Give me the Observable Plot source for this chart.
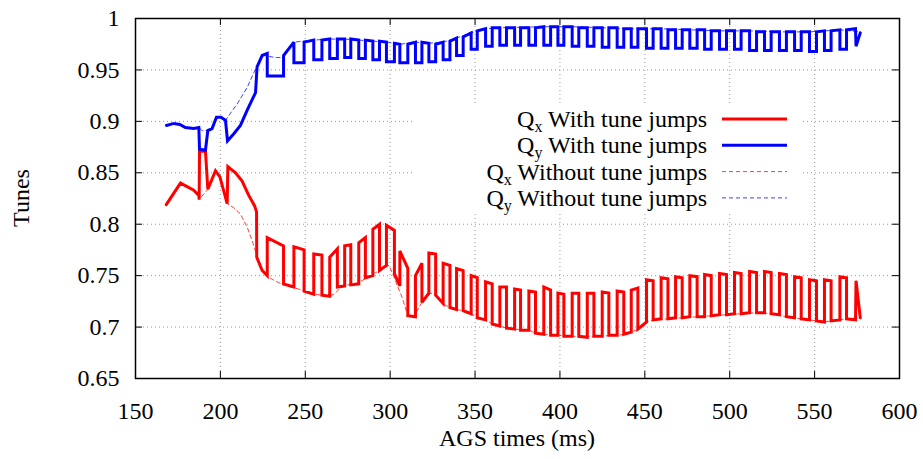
<!DOCTYPE html>
<html><head><meta charset="utf-8">
<script src="https://cdn.jsdelivr.net/npm/d3@7"></script>
<script src="https://cdn.jsdelivr.net/npm/@observablehq/plot@0.6"></script>
<style>body{margin:0;background:#fff}#chart{width:923px;height:459px}</style>
</head><body><div id="chart"></div>
<script>
// ---------- data ----------
const xTicks = [150, 200, 250, 300, 350, 400, 450, 500, 550, 600];
const yTicks = [0.65, 0.7, 0.75, 0.8, 0.85, 0.9, 0.95, 1];

// irregular start of the "with tune jumps" curves [ms, tune]
const qxLead = [[168.1,0.819],[176.5,0.840],[184.3,0.833],[187.3,0.828],[187.5,0.824],[187.7,0.871],[191.2,0.871],[192.6,0.834],[197.1,0.852],[199.7,0.846],[204.0,0.820],[204.4,0.856],[208.9,0.850],[212.8,0.842],[216.7,0.828],[220.1,0.818],[221.3,0.812],[221.4,0.768],[224.6,0.755]];
const qyLead = [[168.2,0.896],[172.6,0.898],[176.1,0.897],[179.4,0.894],[184.3,0.893],[187.3,0.894],[187.7,0.873],[191.2,0.872],[192.6,0.891],[195.1,0.893],[197.7,0.904],[200.4,0.904],[203.0,0.901],[204.2,0.881],[207.9,0.888],[211.8,0.896],[215.8,0.911],[220.7,0.928],[221.6,0.953],[224.6,0.964]];

// regular tune-jump pulses: start / end time (ms)
const jumpOn  = [227.6,243.3,255.0,264.4,273.2,281.5,289.8,297.8,305.7,314.9,322.8,331.2,339.1,347.7,356.2,364.6,373.3,381.7,390.5,398.8,407.2,416.1,424.9,433.7,442.0,451.0,459.6,468.1,476.5,485.2,494.0,502.8,511.7,520.5,529.3,538.2,547.0,555.8,564.9];
const jumpOff = [237.2,249.3,259.8,268.9,276.8,285.4,293.7,302.5,310.4,318.7,326.8,335.2,343.0,351.3,360.1,368.5,376.8,385.6,394.5,402.3,411.1,420.0,428.8,437.6,445.9,454.9,463.6,472.0,480.8,489.1,498.1,506.7,515.8,524.4,533.4,542.1,551.1,559.7,568.8];
// Qx: before jump, top at jump start, top at jump end, after jump
const qxPre    = [0.750,0.739,0.732,0.730,0.740,0.742,0.750,0.760,0.740,0.710,0.733,0.723,0.717,0.713,0.707,0.701,0.698,0.697,0.693,0.692,0.691,0.690,0.691,0.692,0.695,0.705,0.708,0.709,0.710,0.710,0.712,0.713,0.714,0.714,0.712,0.709,0.707,0.705,0.707];
const qxTopOn  = [0.787,0.778,0.771,0.768,0.779,0.782,0.795,0.799,0.774,0.750,0.772,0.762,0.757,0.750,0.744,0.739,0.737,0.735,0.739,0.733,0.733,0.733,0.734,0.735,0.736,0.746,0.748,0.749,0.750,0.751,0.752,0.753,0.754,0.754,0.752,0.749,0.746,0.746,0.749];
const qxTopOff = [0.779,0.775,0.770,0.776,0.780,0.787,0.800,0.794,0.757,0.762,0.771,0.760,0.755,0.748,0.742,0.739,0.736,0.734,0.736,0.732,0.733,0.733,0.733,0.734,0.738,0.745,0.747,0.748,0.749,0.750,0.751,0.752,0.753,0.753,0.751,0.748,0.745,0.745,0.748];
const qxPost   = [0.742,0.735,0.731,0.739,0.741,0.748,0.755,0.752,0.711,0.724,0.731,0.719,0.716,0.709,0.703,0.699,0.697,0.694,0.692,0.691,0.691,0.691,0.692,0.693,0.698,0.707,0.708,0.709,0.710,0.711,0.712,0.713,0.714,0.713,0.710,0.708,0.706,0.706,0.708];
// Qy: before jump, during jump, after jump
const qyPre    = [0.966,0.977,0.979,0.980,0.980,0.979,0.978,0.977,0.975,0.977,0.976,0.977,0.981,0.986,0.990,0.991,0.991,0.991,0.992,0.992,0.992,0.991,0.991,0.991,0.990,0.990,0.990,0.989,0.989,0.989,0.988,0.988,0.988,0.987,0.987,0.987,0.987,0.988,0.989];
const qyLow    = [0.944,0.957,0.960,0.961,0.962,0.961,0.960,0.958,0.957,0.957,0.958,0.960,0.964,0.970,0.973,0.974,0.974,0.974,0.974,0.974,0.973,0.973,0.972,0.972,0.972,0.971,0.971,0.971,0.971,0.970,0.970,0.970,0.969,0.969,0.969,0.969,0.968,0.969,0.970];
const qyPost   = [0.964,0.977,0.979,0.980,0.980,0.979,0.978,0.976,0.975,0.977,0.975,0.978,0.982,0.988,0.991,0.991,0.991,0.991,0.992,0.992,0.991,0.991,0.991,0.990,0.990,0.990,0.989,0.989,0.989,0.988,0.988,0.988,0.987,0.987,0.987,0.987,0.987,0.988,0.989];

// last (truncated) pulse
const qxTail = [[574.1,0.707],[574.4,0.745],[576.9,0.709]];
const qyTail = [[574.1,0.990],[574.4,0.973],[576.9,0.986]];

// "without tune jumps" curves
const qxWithout = [[168.1,0.819],[176.5,0.840],[184.3,0.833],[187.3,0.828],[187.5,0.824],[192.6,0.834],[197.1,0.852],[199.7,0.846],[204.0,0.820],[207.9,0.816],[211.8,0.810],[215.8,0.797],[218.7,0.784],[221.2,0.771],[224.6,0.755],[227.2,0.750],[232.0,0.745],[237.3,0.741],[241.3,0.739],[246.0,0.737],[249.5,0.735],[254.6,0.732],[259.9,0.731],[263.9,0.730],[267.0,0.732],[270.7,0.738],[276.6,0.742],[281.0,0.743],[286.4,0.748],[290.4,0.752],[296.2,0.757],[299.2,0.760],[301.2,0.753],[303.1,0.745],[307.0,0.729],[310.0,0.713],[313.9,0.709],[316.9,0.719],[319.8,0.727],[324.0,0.733],[327.0,0.731],[331.6,0.722],[335.5,0.719],[339.1,0.717],[343.0,0.716],[347.7,0.713],[351.3,0.709],[356.2,0.707],[360.1,0.703],[364.6,0.701],[368.5,0.699],[373.3,0.698],[381.7,0.697],[385.6,0.694],[390.5,0.693],[398.8,0.692],[407.2,0.691],[420.0,0.691],[433.7,0.692],[438.0,0.693],[442.0,0.695],[446.0,0.698],[451.0,0.705],[455.0,0.707],[463.6,0.708],[472.0,0.709],[480.8,0.710],[489.1,0.711],[498.1,0.712],[506.7,0.713],[515.8,0.714],[524.4,0.713],[533.4,0.710],[542.1,0.708],[551.1,0.706],[555.8,0.705],[559.7,0.706],[568.8,0.708],[576.9,0.709]];
const qyWithout = [[168.2,0.896],[172.6,0.898],[176.1,0.897],[179.4,0.894],[184.3,0.893],[187.3,0.894],[189.3,0.891],[192.6,0.891],[195.1,0.893],[197.7,0.904],[200.4,0.904],[203.0,0.901],[209.9,0.917],[215.8,0.933],[220.7,0.951],[224.6,0.964],[226.6,0.966],[229.0,0.963],[233.0,0.962],[236.4,0.962],[237.7,0.964],[240.0,0.970],[243.2,0.977],[249.0,0.978],[255.0,0.979],[264.0,0.980],[273.0,0.980],[281.5,0.979],[290.0,0.978],[298.0,0.977],[306.0,0.975],[315.0,0.977],[323.0,0.976],[331.0,0.977],[339.0,0.981],[347.7,0.986],[356.0,0.990],[365.0,0.991],[390.0,0.992],[407.0,0.992],[425.0,0.991],[442.0,0.990],[460.0,0.990],[476.0,0.989],[494.0,0.988],[512.0,0.988],[530.0,0.987],[547.0,0.987],[556.0,0.988],[565.0,0.989],[576.9,0.987]];

const legendSubs = ["x", "y", "x", "y"];
const legendText = ["With tune jumps", "With tune jumps", "Without tune jumps", "Without tune jumps"];

// ---------- build tables ----------
const toRows = a => a.map(([t, q]) => ({t, q}));
const qxWith = toRows(qxLead);
const qyWith = toRows(qyLead);
jumpOn.forEach((on, k) => {
  const off = jumpOff[k];
  qxWith.push({t: on, q: qxPre[k]}, {t: on, q: qxTopOn[k]}, {t: off, q: qxTopOff[k]}, {t: off, q: qxPost[k]});
  qyWith.push({t: on, q: qyPre[k]}, {t: on, q: qyLow[k]}, {t: off, q: qyLow[k]}, {t: off, q: qyPost[k]});
});
qxWith.push(...toRows(qxTail));
qyWith.push(...toRows(qyTail));

// ---------- layout ----------
const W = 923, H = 459, mL = 135, mR = 24, mT = 18, mB = 81;
const pW = W - mL - mR, pH = H - mT - mB;
const RED = "#ff0000", BLUE = "#0000ff";
const font = "'Liberation Serif','Times New Roman',serif";
const grid = {stroke: "#9a9a9a", strokeWidth: 1, strokeDasharray: "1,3"};

const svg = Plot.plot({
  width: W, height: H,
  marginLeft: mL, marginRight: mR, marginTop: mT, marginBottom: mB,
  style: {fontFamily: font, fontSize: "24px", color: "black", background: "white"},
  x: {domain: [150, 600]},
  y: {domain: [0.65, 1]},
  marks: [
    Plot.ruleX(xTicks, {x: d => d, ...grid}),
    Plot.ruleY(yTicks, {y: d => d, ...grid}),
    Plot.ruleX(xTicks, {x: d => d, insetTop: pH - 7, stroke: "black"}),
    Plot.ruleX(xTicks, {x: d => d, insetBottom: pH - 7, stroke: "black"}),
    Plot.ruleY(yTicks, {y: d => d, insetRight: pW - 7, stroke: "black"}),
    Plot.ruleY(yTicks, {y: d => d, insetLeft: pW - 7, stroke: "black"}),
    Plot.axisX({ticks: xTicks, tickSize: 0, tickPadding: 23, tickFormat: d => String(d), label: null, fontSize: 24}),
    Plot.axisY({ticks: yTicks, tickSize: 0, tickPadding: 16, tickFormat: d => String(+d.toFixed(2)), label: null, fontSize: 24}),
    Plot.line(qxWith, {x: "t", y: "q", stroke: RED, strokeWidth: 3, strokeLinejoin: "miter", strokeMiterlimit: 3}),
    Plot.line(qyWith, {x: "t", y: "q", stroke: BLUE, strokeWidth: 3, strokeLinejoin: "miter", strokeMiterlimit: 3}),
    Plot.line(toRows(qxWithout), {x: "t", y: "q", stroke: RED, strokeWidth: 1, strokeDasharray: "4,3", strokeOpacity: 0.75}),
    Plot.line(toRows(qyWithout), {x: "t", y: "q", stroke: BLUE, strokeWidth: 1, strokeDasharray: "4,3", strokeOpacity: 0.75}),
    Plot.frame({stroke: "black", strokeWidth: 1.5})
  ]
});

// ---------- titles and key ----------
const s = d3.select(svg);
s.append("text").attr("x", mL + pW / 2).attr("y", 446).attr("text-anchor", "middle")
  .attr("font-family", font).attr("font-size", 24).attr("fill", "black").text("AGS times (ms)");
s.append("text").attr("transform", `translate(21,${mT + pH / 2}) rotate(-90)`).attr("text-anchor", "middle")
  .attr("dy", "0.35em").attr("font-family", font).attr("font-size", 24).attr("fill", "black").text("Tunes");

const key = s.append("g");
key.append("rect").attr("x", 413).attr("y", 104).attr("width", 387).attr("height", 108).attr("fill", "white");
const keyStyles = [
  {stroke: RED, w: 3, dash: null, op: 1},
  {stroke: BLUE, w: 3, dash: null, op: 1},
  {stroke: RED, w: 1, dash: "4,3", op: 0.75},
  {stroke: BLUE, w: 1, dash: "4,3", op: 0.75}
];
legendText.forEach((label, i) => {
  const yRow = 119 + i * 26.3;
  const t = key.append("text").attr("x", 707).attr("y", yRow + 8).attr("text-anchor", "end")
    .attr("font-family", font).attr("font-size", 24).attr("fill", "black").style("white-space", "pre");
  t.append("tspan").text("Q");
  t.append("tspan").attr("dy", 5).attr("font-size", 16).text(legendSubs[i]);
  t.append("tspan").attr("dy", -5).text(" " + label);
  const st = keyStyles[i];
  key.append("line").attr("x1", 722).attr("x2", 787).attr("y1", yRow).attr("y2", yRow)
    .attr("stroke", st.stroke).attr("stroke-width", st.w).attr("stroke-dasharray", st.dash).attr("stroke-opacity", st.op);
});

document.getElementById("chart").appendChild(svg);
</script>
</body></html>
